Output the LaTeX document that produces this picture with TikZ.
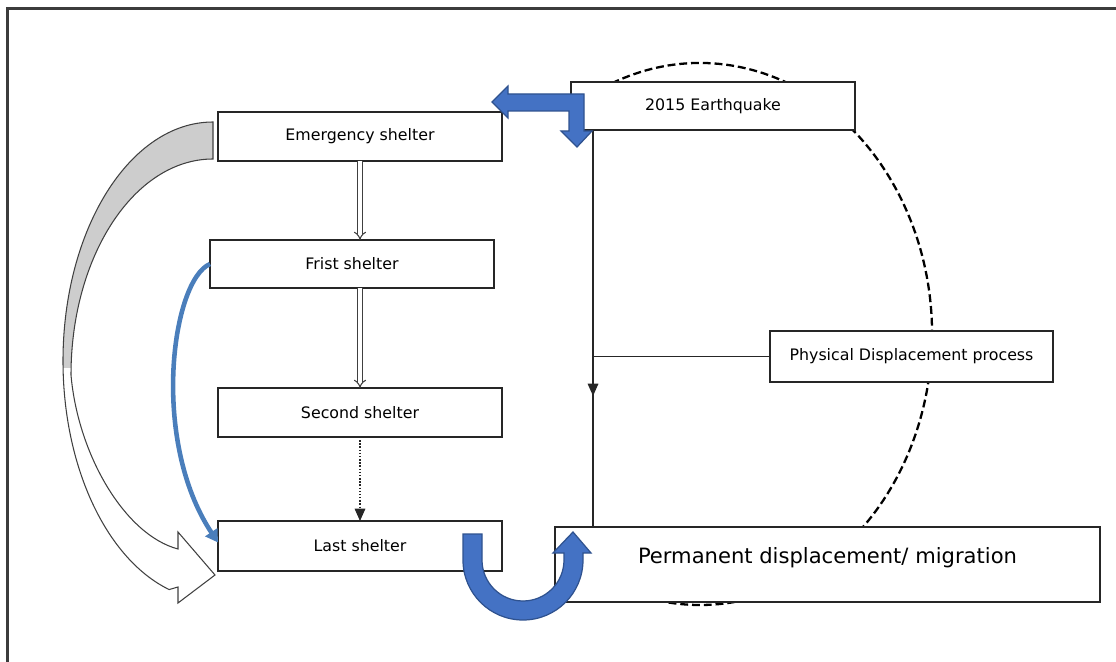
\documentclass[tikz,border=0pt]{standalone}
\usepackage{fontspec}
\setmainfont{DejaVu Sans}
\usetikzlibrary{arrows.meta,decorations.markings}

\definecolor{blockblue}{RGB}{68,114,196}
\definecolor{blockedge}{RGB}{47,82,143}
\definecolor{curveblue}{RGB}{74,126,187}
\definecolor{backface}{RGB}{205,205,205}
\definecolor{framegray}{RGB}{60,60,60}

\begin{document}
% one unit = 0.02cm, y grows downwards
\begin{tikzpicture}[x=0.02cm,y=-0.02cm,
  box/.style={draw=black!85, line width=0.8pt, fill=white, inner sep=0pt,
    outer sep=0pt, font=\fontsize{9}{11}\selectfont},
  link/.style={line width=0.8pt, black!85},
  hollowlink/.style={double=white, double distance=1.8pt, line width=0.6pt,
    black!75, -{Implies}},
  blockarrow/.style={fill=blockblue, draw=blockedge, line width=0.7pt, line join=miter},
  ribbon/.style={draw=black!75, line width=0.6pt, line join=miter},
]
\useasboundingbox (0,0) rectangle (1116,662);

% page frame
\draw[framegray, line width=1.2pt] (7.5,662) -- (7.5,8.5) -- (1116,8.5);

% dashed cycle outline behind the right-hand boxes
\draw[line width=1.3pt, dash pattern=on 4.5pt off 2.2pt]
  ([shift={(242:232 and 271)}]700,334)
  arc[start angle=242, end angle=460, x radius=232, y radius=271];

% boxes
\node[box, minimum width=5.68cm, minimum height=0.98cm] (emer)   at (360,136.5) {Emergency shelter};
\node[box, minimum width=5.68cm, minimum height=0.96cm] (frist)  at (352,264)   {Frist shelter};
\node[box, minimum width=5.68cm, minimum height=0.98cm] (second) at (360,412.5) {Second shelter};
\node[box, minimum width=5.68cm, minimum height=1.0cm]  (last)   at (360,546)   {Last shelter};
\node[box, minimum width=5.68cm, minimum height=0.96cm] (eq)     at (713,106)   {2015 Earthquake};
\node[box, minimum width=5.66cm, minimum height=1.02cm] (phys)   at (911.5,356.5) {Physical Displacement process};
\node[box, minimum width=10.9cm, minimum height=1.5cm, font=\fontsize{12}{14}\selectfont]
  (perm) at (827.5,564.5) {\raisebox{10pt}{Permanent displacement/ migration}};

% shelter sequence
\draw[hollowlink] (emer.south) -- (emer.south |- frist.north);
\draw[hollowlink] (emer.south |- frist.south) -- (emer.south |- second.north);
\draw[link, densely dotted, -{Triangle[width=6pt,length=7pt]}] (second.south) -- (last.north);

% displacement process line
\path (eq.south west) ++(22,0) coordinate (vtop);
\draw[link, postaction={decorate}, decoration={markings,
    mark=at position 0.67 with {\arrow{Triangle[width=6pt,length=7pt]}}}]
  (vtop) -- (vtop |- perm.north);
\draw[link] (phys.west) -- (phys.west -| vtop);

% large curved arrow from emergency to last shelter
\begin{scope}
  \clip (213,122) arc[start angle=270, end angle=107, x radius=150, y radius=239]
    -- (178,587) -- (178,603) -- (215,575) -- (178,532) -- (178,549)
    .. controls (125,535) and (78,455) .. (71,375)
    arc[start angle=180, end angle=270, x radius=142, y radius=216] -- cycle;
  \fill[white] (0,100) rectangle (260,620);
  \fill[backface] (0,100) rectangle (260,368);
\end{scope}
\draw[ribbon] (213,122) arc[start angle=270, end angle=107, x radius=150, y radius=239]
  -- (178,587) -- (178,603) -- (215,575) -- (178,532) -- (178,549)
  .. controls (125,535) and (78,455) .. (71,375)
  arc[start angle=180, end angle=270, x radius=142, y radius=216] -- cycle;

% thin blue curve from first to last shelter
\draw[curveblue, line width=2.6pt, -{Triangle[width=8pt,length=7pt]}]
  (frist.west) .. controls (172,280) and (150,440) .. ([yshift=2pt]last.west);

% bent arrow at the earthquake box
\draw[blockarrow] (492,102) -- (508,86) -- (508,94) -- (584,94) -- (584,131)
  -- (592,131) -- (577,147) -- (561,131) -- (569,131) -- (569,111)
  -- (508,111) -- (508,118) -- cycle;

% U-turn arrow from last shelter to permanent displacement
\draw[blockarrow] (463,534) -- (463,560)
  arc[start angle=180, end angle=0, radius=60]
  -- (583,553) -- (591,553) -- (573,532) -- (553,553) -- (564,553) -- (564,560)
  arc[start angle=0, end angle=180, radius=41] -- (482,534) -- cycle;
\end{tikzpicture}
\end{document}
